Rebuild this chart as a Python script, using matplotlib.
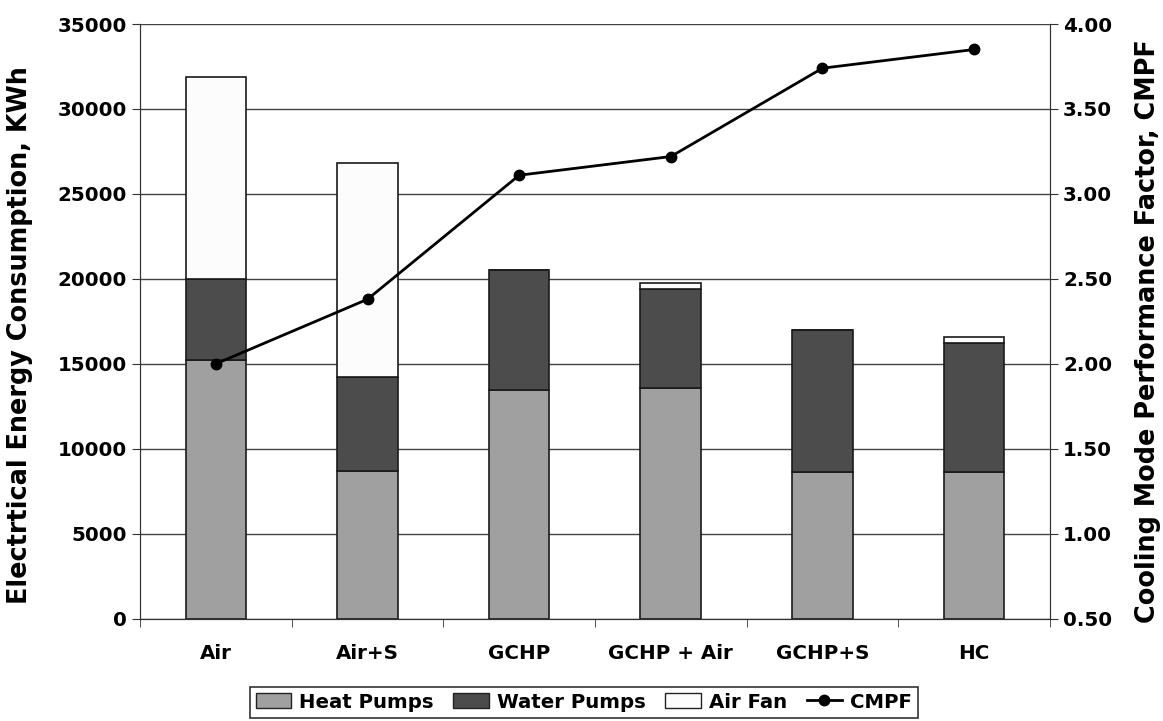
import matplotlib.pyplot as plt
import numpy as np
from matplotlib.lines import Line2D
from matplotlib.patches import Patch

categories = ["Air", "Air+S", "GCHP", "GCHP + Air", "GCHP+S", "HC"]
heat_pumps = [15200, 8700, 13450, 13600, 8650, 8650]
water_pumps = [4800, 5500, 7050, 5800, 8350, 7550]
air_fan = [11900, 12600, 0, 370, 0, 350]
cmpf = [2.00, 2.38, 3.11, 3.22, 3.74, 3.85]

plt.rcParams["font.family"] = "DejaVu Sans"
plt.rcParams["font.weight"] = "bold"

fig = plt.figure(figsize=(11.63, 7.21), dpi=100)
ax = fig.add_axes([0.1204, 0.1419, 0.7824, 0.8248])
ax2 = ax.twinx()

x = np.arange(len(categories))
heat = np.array(heat_pumps)
water = np.array(water_pumps)
fan = np.array(air_fan)
edge = dict(edgecolor="#1a1a1a", linewidth=1.2, width=0.4, zorder=3)
ax.bar(x, heat, color="#a0a0a0", **edge)
ax.bar(x, water, bottom=heat, color="#4c4c4c", **edge)
ax.bar(x, fan, bottom=heat + water, color="#fcfcfc", **edge)

ax.set_xlim(-0.5, len(categories) - 0.5)
ax.set_ylim(0, 35000)
ax.set_yticks(np.arange(0, 35001, 5000))
ax.yaxis.grid(True, color="#444444", linewidth=1.0, zorder=0)
ax.set_axisbelow(True)
ax.set_xticks(x)
ax.set_xticklabels(categories, fontsize=14.3, fontweight="bold")
ax.set_xticks(np.arange(-0.5, len(categories)), minor=True)
ax.tick_params(axis="x", which="major", length=0, pad=18)
ax.tick_params(axis="x", which="minor", length=6, color="#333333")
ax.tick_params(axis="y", length=6, labelsize=14.3, color="#333333")
for lab in ax.get_yticklabels():
    lab.set_fontweight("bold")
ax.set_ylabel("Electrtical Energy Consumption, KWh", fontsize=18.4, fontweight="bold")
ax.yaxis.set_label_coords(-0.1176, 0.477)

ax2.plot(x, cmpf, color="black", linewidth=2, marker="o", markersize=7.5, zorder=5)
ax2.set_ylim(0.5, 4.0)
ax2.set_yticks(np.arange(0.5, 4.01, 0.5))
ax2.set_yticklabels([f"{v:.2f}" for v in np.arange(0.5, 4.01, 0.5)], fontsize=14.3, fontweight="bold")
ax2.tick_params(axis="y", length=6, color="#333333")
ax2.set_ylabel("Cooling Mode Performance Factor, CMPF", fontsize=18.4, fontweight="bold",
               rotation=90)
ax2.yaxis.set_label_coords(1.0934, 0.484)

for a in (ax, ax2):
    a.spines["top"].set_visible(False)
    for side in ("left", "right", "bottom"):
        a.spines[side].set_color("#333333")

handles = [
    Patch(facecolor="#a0a0a0", edgecolor="#222222", label="Heat Pumps"),
    Patch(facecolor="#4c4c4c", edgecolor="#222222", label="Water Pumps"),
    Patch(facecolor="#fcfcfc", edgecolor="#222222", label="Air Fan"),
    Line2D([0], [0], color="black", linewidth=2, marker="o", markersize=7.5, label="CMPF"),
]
leg = fig.legend(handles=handles, loc="lower center", bbox_to_anchor=(0.502, 0.002), ncol=4,
                 fontsize=14.2, frameon=True, fancybox=False, edgecolor="black",
                 handlelength=1.8, handleheight=0.8, handletextpad=0.4, columnspacing=1.0,
                 borderpad=0.3, borderaxespad=0.1)
leg.get_frame().set_linewidth(1.2)

fig.savefig("out.png", dpi=100)
